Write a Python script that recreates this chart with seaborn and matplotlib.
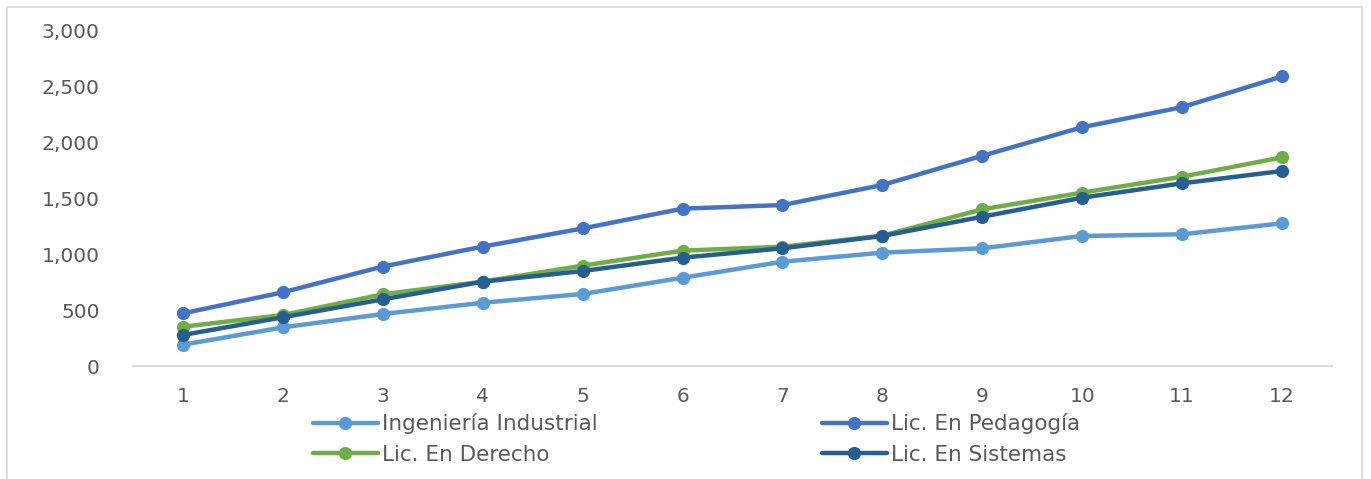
import numpy as np
import pandas as pd
import seaborn as sns
import matplotlib
matplotlib.use("Agg")
import matplotlib.pyplot as plt
from matplotlib.lines import Line2D
from matplotlib.ticker import FuncFormatter

meses = list(range(1, 13))
series = ["Ingeniería Industrial", "Lic. En Pedagogía", "Lic. En Derecho", "Lic. En Sistemas"]
industrial = [190, 345, 464, 565, 643, 788, 931, 1012, 1051, 1161, 1176, 1274]
pedagogia = [470, 658, 888, 1066, 1228, 1405, 1437, 1616, 1877, 2132, 2311, 2585]
derecho = [351, 455, 640, 753, 896, 1030, 1065, 1164, 1399, 1548, 1690, 1863]
sistemas = [277, 435, 595, 753, 848, 967, 1051, 1161, 1333, 1503, 1631, 1741]
colores = ["#5B9BD5", "#4472C4", "#70AD47", "#255E91"]

df = pd.DataFrame({
    "mes": meses * 4,
    "valor": industrial + pedagogia + derecho + sistemas,
    "serie": sum([[s] * 12 for s in series], []),
})

sns.set_theme(style="white")
plt.rcParams["font.family"] = ["DejaVu Sans"]

fig = plt.figure(figsize=(13.71, 4.79), dpi=100)
ax = fig.add_axes([133 / 1371, 1 - 366 / 479, (1332 - 133) / 1371, (366 - 30) / 479])

palette = dict(zip(series, colores))
sns.lineplot(data=df, x="mes", y="valor", hue="serie", palette=palette,
             marker="o", markersize=9.5, markeredgewidth=0, linewidth=3.2,
             legend=False, ax=ax, sort=False)

ax.set_xlim(0.5, 12.5)
ax.set_ylim(0, 3000)
ax.set_xticks(meses)
ax.set_yticks(np.arange(0, 3001, 500))
ax.yaxis.set_major_formatter(FuncFormatter(lambda v, p: f"{int(v):,}"))
ax.set_xlabel("")
ax.set_ylabel("")
for s in ["top", "right", "left"]:
    ax.spines[s].set_visible(False)
ax.spines["bottom"].set_color("#D9D9D9")
ax.spines["bottom"].set_linewidth(1.5)
ax.tick_params(axis="both", length=0, labelsize=14.5, labelcolor="#595959")
ax.tick_params(axis="y", pad=24)
ax.tick_params(axis="x", pad=15)
ax.grid(False)

# border around chart area
fig.patches.append(plt.Rectangle((7 / 1371, -0.05), (1362 - 7) / 1371, 1 - 7 / 479 + 0.05,
                                 transform=fig.transFigure, fill=False,
                                 edgecolor="#D9D9D9", linewidth=1.2))

def make_handle(c):
    return Line2D([0], [0], color=c, marker="o", markersize=9.5,
                  markeredgewidth=0, linewidth=3.2)

legend_kw = dict(loc="center left", frameon=False, fontsize=15.5, handlelength=3.0,
                 handletextpad=0.2, labelspacing=0.5, labelcolor="#595959",
                 borderaxespad=0, borderpad=0)
fig.legend([make_handle(colores[0]), make_handle(colores[2])], [series[0], series[2]],
           bbox_to_anchor=(313 / 1371, 1 - 439 / 479), **legend_kw)
fig.legend([make_handle(colores[1]), make_handle(colores[3])], [series[1], series[3]],
           bbox_to_anchor=(822 / 1371, 1 - 439 / 479), **legend_kw)

fig.savefig("out.png", dpi=100, facecolor="white")
